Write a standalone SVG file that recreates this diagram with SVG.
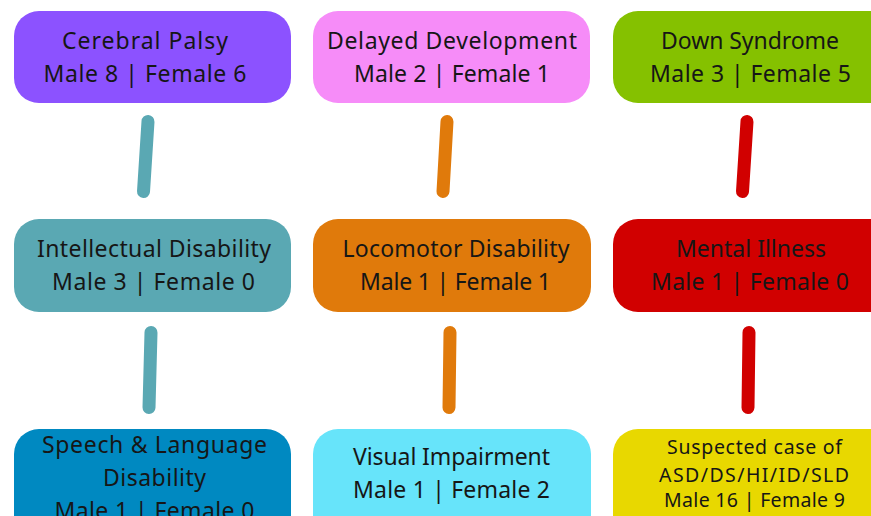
<svg xmlns="http://www.w3.org/2000/svg" width="871" height="516" viewBox="0 0 871 516">
<style>
.box{stroke:none}
.t{font-family:"Noto Sans","Liberation Sans",sans-serif;font-size:23px;fill:#161616;text-anchor:middle}
.s{font-size:19.5px}
.c{fill:none;stroke-width:13;stroke-linecap:round}
</style>
<rect width="871" height="516" fill="#ffffff"/>
<g id="connectors">
<line class="c" x1="148" y1="121.5" x2="143.5" y2="191.5" stroke="#5aa8b3"/>
<line class="c" x1="447" y1="121.5" x2="443" y2="191.5" stroke="#e07a0b"/>
<line class="c" x1="747" y1="121.5" x2="742.5" y2="191.5" stroke="#d10000"/>
<line class="c" x1="151" y1="332.5" x2="149" y2="407.5" stroke="#5aa8b3"/>
<line class="c" x1="450" y1="332.5" x2="449" y2="407.5" stroke="#e07a0b"/>
<line class="c" x1="749" y1="332.5" x2="748" y2="407.5" stroke="#d10000"/>
</g>
<g id="cerebral-palsy">
<rect class="box" x="14" y="11" width="277" height="92" rx="25" fill="#8c52ff"/>
<text class="t" x="145" y="49" textLength="166">Cerebral Palsy</text>
<text class="t" x="145" y="82" textLength="203">Male 8 | Female 6</text>
</g>
<g id="delayed-development">
<rect class="box" x="313" y="11" width="277" height="92" rx="25" fill="#f68cf8"/>
<text class="t" x="452" y="49" textLength="250">Delayed Development</text>
<text class="t" x="452" y="82" textLength="196">Male 2 | Female 1</text>
</g>
<g id="down-syndrome">
<rect class="box" x="613" y="11" width="290" height="92" rx="25" fill="#85c100"/>
<text class="t" x="750" y="49" textLength="178">Down Syndrome</text>
<text class="t" x="750.5" y="82" textLength="201">Male 3 | Female 5</text>
</g>
<g id="intellectual-disability">
<rect class="box" x="14" y="219" width="277" height="93" rx="25" fill="#5aa8b3"/>
<text class="t" x="154" y="257" textLength="234">Intellectual Disability</text>
<text class="t" x="153.5" y="290" textLength="203">Male 3 | Female 0</text>
</g>
<g id="locomotor-disability">
<rect class="box" x="313" y="219" width="278" height="93" rx="25" fill="#e07a0b"/>
<text class="t" x="456" y="257" textLength="227">Locomotor Disability</text>
<text class="t" x="455.5" y="290" textLength="191">Male 1 | Female 1</text>
</g>
<g id="mental-illness">
<rect class="box" x="613" y="219" width="290" height="93" rx="25" fill="#d10000"/>
<text class="t" x="751" y="257" textLength="150">Mental Illness</text>
<text class="t" x="750" y="290" textLength="198">Male 1 | Female 0</text>
</g>
<g id="speech-language-disability">
<rect class="box" x="14" y="429" width="277" height="120" rx="25" fill="#0089c1"/>
<text class="t" x="154.5" y="453" textLength="225">Speech &amp; Language</text>
<text class="t" x="154.5" y="486" textLength="103">Disability</text>
<text class="t" x="154.5" y="519" textLength="200">Male 1 | Female 0</text>
</g>
<g id="visual-impairment">
<rect class="box" x="313" y="429" width="278" height="120" rx="25" fill="#67e4fa"/>
<text class="t" x="451.5" y="465" textLength="197">Visual Impairment</text>
<text class="t" x="451.5" y="498" textLength="197">Male 1 | Female 2</text>
</g>
<g id="suspected-case">
<rect class="box" x="613" y="429" width="290" height="120" rx="25" fill="#e8d800"/>
<text class="t s" x="754.5" y="454" textLength="175">Suspected case of</text>
<text class="t s" x="754" y="482" textLength="190">ASD/DS/HI/ID/SLD</text>
<text class="t s" x="754.5" y="507" textLength="181">Male 16 | Female 9</text>
</g>
</svg>
